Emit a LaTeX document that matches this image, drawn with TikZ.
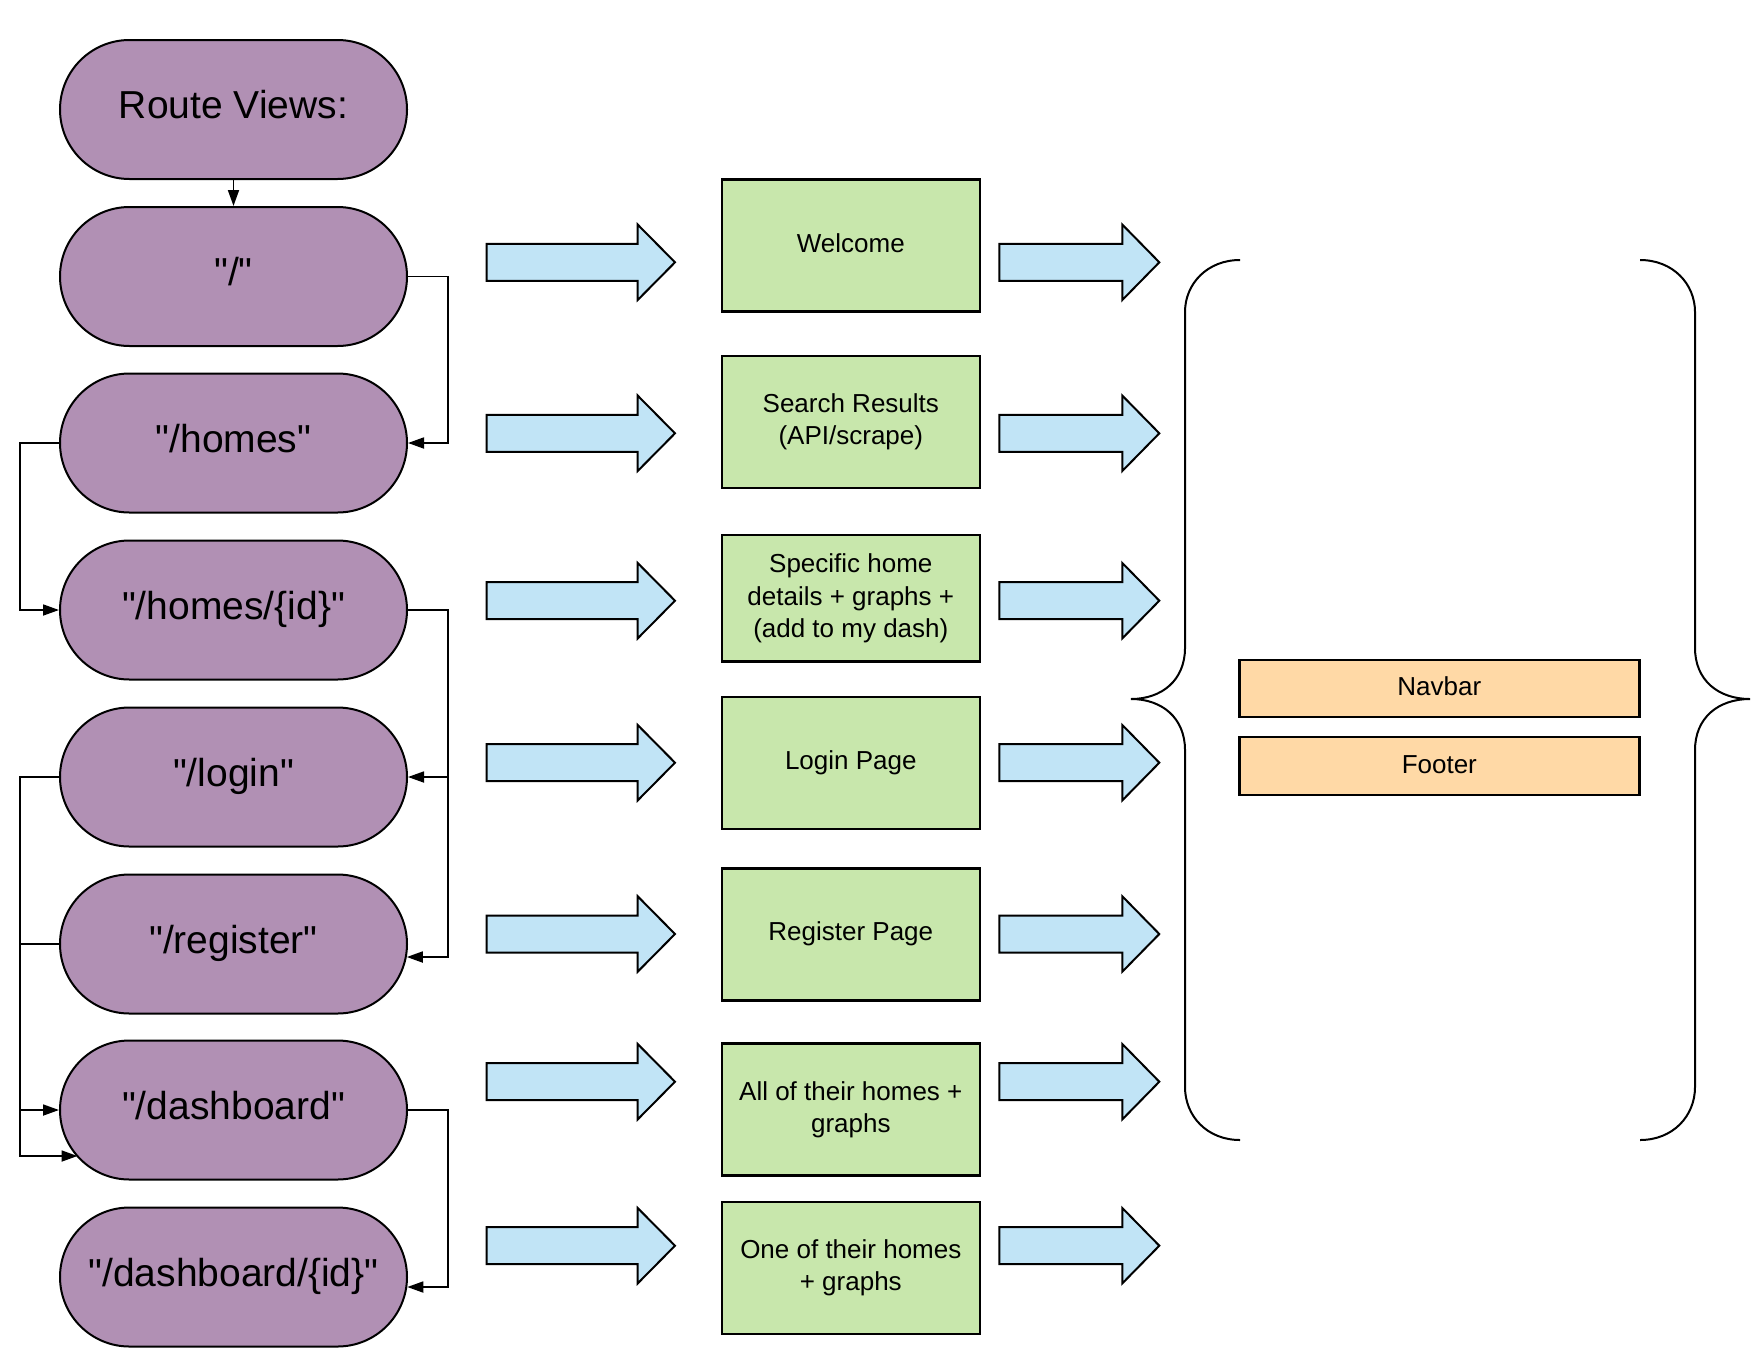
\documentclass[tikz,border=0pt]{standalone}
\usepackage{fontspec}
\setmainfont{Liberation Sans}
\usetikzlibrary{arrows.meta,calc}
\font\routefont="Liberation Sans" at 19.5pt
\definecolor{routepurple}{HTML}{B190B4}
\definecolor{pagegreen}{HTML}{C8E7AC}
\definecolor{flowblue}{HTML}{C1E4F6}
\definecolor{partorange}{HTML}{FFD9A6}
\begin{document}
\begin{tikzpicture}[x=0.5pt,y=-0.5pt,
  route/.style={draw=black,line width=1pt,fill=routepurple,rounded corners=34.75pt,
    minimum width=173.5pt,minimum height=69.5pt,inner sep=0pt,
    font=\routefont,text height=10.5pt,text depth=1.5pt},
  pagebox/.style={draw=black,line width=1.3pt,fill=pagegreen,
    minimum width=129pt,minimum height=66pt,inner sep=2pt,align=center,
    font=\fontsize{13pt}{16.2pt}\selectfont},
  partbox/.style={draw=black,line width=1.2pt,fill=partorange,
    minimum width=200pt,minimum height=28.5pt,inner sep=0pt,
    font=\fontsize{13pt}{16pt}\selectfont,text height=9.6pt,text depth=2.5pt},
  conn/.style={draw=black,line width=0.9pt,-{Triangle[length=8pt,width=5.5pt]}},
  blockarrow/.style={draw=black,line width=1pt,fill=flowblue,line join=miter},
  bracestyle/.style={draw=black,line width=1pt}
]
\useasboundingbox (0,0) rectangle (1760,1360);
\fill[white] (0,0) rectangle (1760,1360);

% route views column
\node[route] (rv)    at (233.5,109.5) {Route Views:};
\node[route] (root)  at (233.5,276.5) {"/"};
\node[route] (homes) at (233.5,443)   {"/homes"};
\node[route] (hid)   at (233.5,610)   {"/homes/\{id\}"};
\node[route] (login) at (233.5,777)   {"/login"};
\node[route] (reg)   at (233.5,944)   {"/register"};
\node[route] (dash)  at (233.5,1110)  {"/dashboard"};
\node[route] (did)   at (233.5,1277)  {"/dashboard/\{id\}"};

% connectors between routes
\draw[conn] (rv.south) -- (root.north);
\draw[conn] (root.east) -- ++(40,0) |- (homes.east);
\draw[conn] (homes.west) -- ++(-39,0) |- (hid.west);
\draw[conn] (hid.east) -- ++(40,0) |- (login.east);
\draw[conn] (hid.east) -- ++(40,0) |- ($(reg.east)+(-1.2,13)$);
\draw[conn] (login.west) -- ++(-39,0) |- (dash.west);
\draw[conn] (reg.west) -- ++(-39,0) |- ($(dash.center)+(-156,46)$);
\draw[conn] (dash.east) -- ++(40,0) |- ($(did.east)+(-0.7,10)$);

% page boxes
\node[pagebox,text height=9.6pt,text depth=3pt] (welcome) at (850.8,245.5) {Welcome};
\node[pagebox] (search)  at (850.8,421.9) {Search Results\\(API/scrape)};
\node[pagebox,minimum height=63.4pt] (specific) at (850.8,598.3) {Specific home\\details + graphs +\\(add to my dash)};
\node[pagebox] (loginp)  at (850.8,763)   {Login Page};
\node[pagebox] (regp)    at (850.8,934.2) {Register Page};
\node[pagebox] (allh)    at (850.8,1109.5) {All of their homes +\\graphs};
\node[pagebox] (oneh)    at (850.8,1267.9) {One of their homes\\+ graphs};

% block arrows
\foreach \yy in {262.3,433.3,600.7,762.7,934,1081.7,1245.7}{
  \draw[blockarrow] (486.7,\yy-18.5) -- (637.7,\yy-18.5) -- (637.7,\yy-37.7) -- (675,\yy)
     -- (637.7,\yy+37.7) -- (637.7,\yy+18.5) -- (486.7,\yy+18.5) -- cycle;
  \draw[blockarrow] (999.3,\yy-18.5) -- (1122.3,\yy-18.5) -- (1122.3,\yy-37.7) -- (1159.3,\yy)
     -- (1122.3,\yy+37.7) -- (1122.3,\yy+18.5) -- (999.3,\yy+18.5) -- cycle;
}

% braces
\draw[bracestyle] (1240,260) .. controls (1207,260) and (1185,284) .. (1185,312)
  -- (1185,648) .. controls (1185,680) and (1162,699) .. (1131,699)
  .. controls (1162,699) and (1185,718) .. (1185,750)
  -- (1185,1087) .. controls (1185,1116) and (1207,1140) .. (1240,1140);
\draw[bracestyle] (1640,260) .. controls (1673,260) and (1695,284) .. (1695,312)
  -- (1695,648) .. controls (1695,680) and (1718,699) .. (1750,699)
  .. controls (1718,699) and (1695,718) .. (1695,750)
  -- (1695,1087) .. controls (1695,1116) and (1673,1140) .. (1640,1140);

% shared parts
\node[partbox] (navbar) at (1439.3,688.3) {Navbar};
\node[partbox,minimum height=29pt] (footer) at (1439.3,766) {Footer};
\end{tikzpicture}
\end{document}
